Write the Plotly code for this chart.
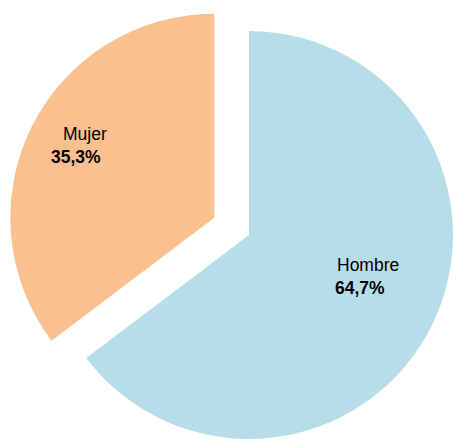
import math
import plotly.graph_objects as go

labels = ["Hombre", "Mujer"]
values = [64.7, 35.3]
colors = ["#B7DEE8", "#FAC090"]
pulled = "Mujer"

W, H = 453, 439
R = 204                # pie radius in px
CX, CY = 249, 235      # centre of the un-pulled pie (px from top-left)
PULL = 0.19            # fraction of radius for the pulled slice

FONT = "Liberation Sans, Arial, sans-serif"
FSIZE = 17.5

# label anchor positions (px): (left of name, centre y of name, left of value, centre y of value)
label_pos = {
    "Hombre": (337, 265, 335, 288),
    "Mujer": (63, 134, 51, 157),
}

fig = go.Figure()

total = sum(values)
cum = 0.0
for i, lab in enumerate(labels):
    frac = values[i] / total
    mid = (cum + frac / 2) * 2 * math.pi  # clockwise from 12 o'clock
    cum += frac
    off = R * PULL if lab == pulled else 0.0
    cx = CX + off * math.sin(mid)
    cy = CY - off * math.cos(mid)
    x0, x1 = (cx - R) / W, (cx + R) / W
    y0, y1 = 1 - (cy + R) / H, 1 - (cy - R) / H
    mcols = [colors[j] if j == i else "rgba(0,0,0,0)" for j in range(len(labels))]
    fig.add_trace(go.Pie(
        labels=labels,
        values=values,
        sort=False,
        direction="clockwise",
        rotation=0,
        marker=dict(colors=mcols, line=dict(width=0)),
        textinfo="none",
        hoverinfo="skip",
        showlegend=False,
        domain=dict(x=[max(0, x0), min(1, x1)], y=[max(0, y0), min(1, y1)]),
    ))

for i, lab in enumerate(labels):
    lx, ly, vx, vy = label_pos[lab]
    fig.add_annotation(
        text=lab, xref="paper", yref="paper",
        x=(lx - 2) / W, y=1 - ly / H, xanchor="left", yanchor="middle",
        showarrow=False, font=dict(family=FONT, size=FSIZE, color="#000000"),
    )
    fig.add_annotation(
        text="<b>" + f"{values[i]:.1f}".replace(".", ",") + "%</b>",
        xref="paper", yref="paper",
        x=(vx - 2) / W, y=1 - vy / H, xanchor="left", yanchor="middle",
        showarrow=False, font=dict(family=FONT, size=FSIZE, color="#000000"),
    )

fig.update_layout(
    width=W, height=H,
    margin=dict(l=0, r=0, t=0, b=0),
    paper_bgcolor="white",
    plot_bgcolor="white",
    showlegend=False,
)

fig.write_html("out.html", config={"displayModeBar": False},
               post_script="document.body.style.margin='0';")
